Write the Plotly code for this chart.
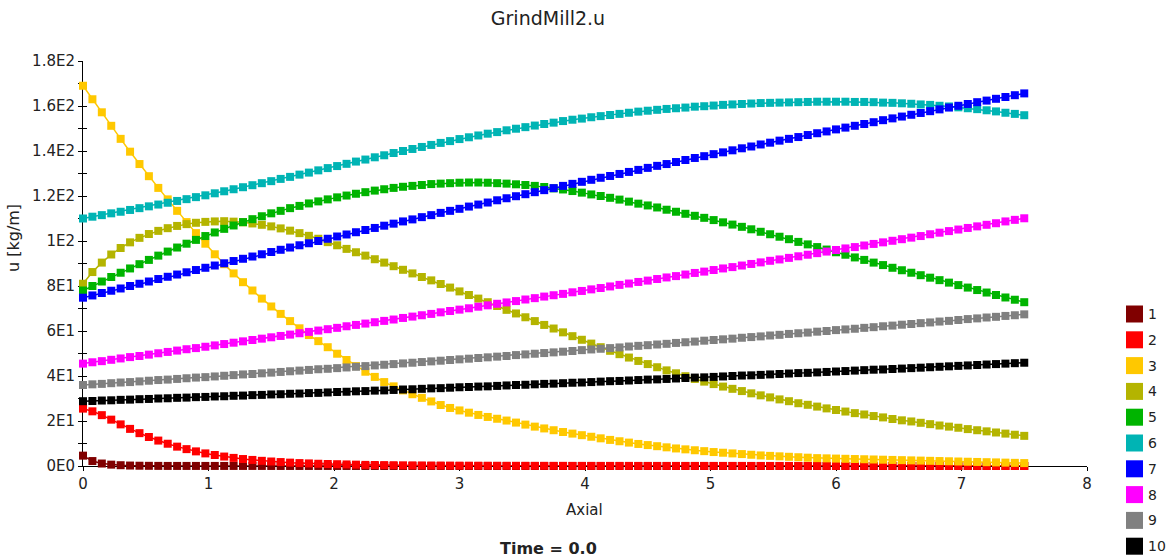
import plotly.graph_objects as go

# ---------------- data ----------------
SERIES_NAMES = ["1", "2", "3", "4", "5", "6", "7", "8", "9", "10"]
COLORS = ["#800000", "#FF0000", "#FFC800", "#B4B400", "#00B400",
          "#00B4B4", "#0000FF", "#FF00FF", "#808080", "#000000"]

AXIAL = [round(i * 0.075, 4) for i in range(101)]  # axial node positions 0 .. 7.5

U1 = [4.6, 2.2, 1.1, 0.6, 0.35, 0.2, 0.12, 0.08, 0.05, 0.03,
      0.03, 0.03, 0.03, 0.03, 0.03, 0.03, 0.03, 0.03, 0.03, 0.03,
      0.02, 0.02, 0.02, 0.02, 0.02, 0.02, 0.02, 0.02, 0.02, 0.02,
      0.02, 0.02, 0.02, 0.02, 0.02, 0.02, 0.02, 0.02, 0.02, 0.02,
      0.01, 0.01, 0.01, 0.01, 0.01, 0.01, 0.01, 0.01, 0.01, 0.01,
      0.01, 0.01, 0.01, 0.01, 0.01, 0.01, 0.01, 0.01, 0.01, 0.01,
      0.01, 0.01, 0.01, 0.01, 0.01, 0.01, 0.01, 0.01, 0.01, 0.01,
      0.01, 0.01, 0.01, 0.01, 0.01, 0.01, 0.01, 0.01, 0.01, 0.01,
      0.01, 0.01, 0.01, 0.01, 0.01, 0.01, 0.01, 0.01, 0.01, 0.01,
      0.01, 0.01, 0.01, 0.01, 0.01, 0.01, 0.01, 0.01, 0.01, 0.01,
      0.01]
U2 = [25.5, 24.3, 22.6, 20.6, 18.5, 16.5, 14.6, 12.9, 11.3, 9.9,
      8.6, 7.5, 6.5, 5.6, 4.9, 4.2, 3.6, 3.1, 2.7, 2.3,
      2.0, 1.75, 1.5, 1.3, 1.15, 1.0, 0.9, 0.8, 0.7, 0.6,
      0.5, 0.45, 0.4, 0.35, 0.3, 0.27, 0.24, 0.21, 0.19, 0.17,
      0.15, 0.14, 0.13, 0.12, 0.11, 0.1, 0.09, 0.09, 0.08, 0.08,
      0.07, 0.07, 0.06, 0.06, 0.06, 0.05, 0.05, 0.05, 0.05, 0.04,
      0.04, 0.04, 0.04, 0.04, 0.04, 0.04, 0.04, 0.04, 0.04, 0.04,
      0.04, 0.03, 0.03, 0.03, 0.03, 0.03, 0.03, 0.03, 0.03, 0.03,
      0.03, 0.03, 0.03, 0.03, 0.03, 0.03, 0.02, 0.02, 0.02, 0.02,
      0.02, 0.02, 0.02, 0.02, 0.02, 0.02, 0.02, 0.02, 0.02, 0.02,
      0.02]
U3 = [169.0, 163.0, 157.2, 151.2, 145.4, 139.7, 134.2, 128.8, 123.6, 118.5,
      113.4, 108.4, 103.5, 98.8, 94.1, 89.7, 85.6, 81.7, 78.0, 74.4,
      70.9, 67.6, 64.4, 61.2, 58.2, 55.5, 52.8, 49.9, 47.1, 44.4,
      41.9, 39.6, 37.3, 35.4, 33.6, 31.9, 30.3, 28.7, 27.1, 25.8,
      24.7, 23.7, 22.7, 21.8, 21.0, 20.2, 19.3, 18.4, 17.5, 16.7,
      15.9, 15.1, 14.4, 13.7, 13.0, 12.3, 11.6, 11.0, 10.4, 9.8,
      9.3, 8.8, 8.3, 7.8, 7.4, 7.0, 6.6, 6.2, 5.9, 5.6,
      5.3, 5.0, 4.7, 4.5, 4.3, 4.1, 3.9, 3.7, 3.5, 3.4,
      3.3, 3.2, 3.1, 3.0, 2.9, 2.8, 2.7, 2.6, 2.5, 2.4,
      2.3, 2.2, 2.1, 2.0, 1.9, 1.8, 1.7, 1.6, 1.5, 1.4,
      1.3]
U4 = [81.0, 86.2, 90.4, 94.0, 96.9, 99.4, 101.4, 103.1, 104.5, 105.7,
      106.7, 107.5, 108.1, 108.5, 108.7, 108.8, 108.6, 108.3, 107.8, 107.2,
      106.5, 105.6, 104.6, 103.5, 102.3, 101.0, 99.5, 98.1, 96.5, 95.0,
      93.5, 91.9, 90.4, 88.8, 87.2, 85.6, 84.0, 82.5, 80.9, 79.3,
      77.6, 76.0, 74.4, 72.8, 71.1, 69.4, 67.8, 66.1, 64.4, 62.7,
      61.1, 59.4, 57.7, 56.1, 54.4, 52.8, 51.2, 49.7, 48.2, 46.7,
      45.3, 43.9, 42.5, 41.2, 39.9, 38.7, 37.5, 36.4, 35.3, 34.3,
      33.3, 32.3, 31.4, 30.5, 29.6, 28.8, 27.9, 27.2, 26.4, 25.6,
      24.9, 24.2, 23.5, 22.9, 22.2, 21.6, 20.9, 20.3, 19.8, 19.2,
      18.6, 18.0, 17.5, 17.0, 16.4, 15.9, 15.4, 14.9, 14.4, 13.9,
      13.4]
U5 = [78.0, 80.0, 82.0, 84.0, 85.9, 87.8, 89.7, 91.6, 93.5, 95.3,
      97.1, 98.8, 100.5, 102.2, 103.8, 105.4, 106.9, 108.4, 109.7, 111.0,
      112.3, 113.4, 114.6, 115.6, 116.7, 117.6, 118.5, 119.4, 120.2, 121.0,
      121.7, 122.4, 123.0, 123.6, 124.1, 124.5, 124.9, 125.3, 125.5, 125.7,
      125.9, 126.0, 126.0, 125.9, 125.7, 125.5, 125.2, 124.9, 124.5, 124.0,
      123.4, 122.9, 122.2, 121.5, 120.7, 120.0, 119.2, 118.4, 117.5, 116.6,
      115.8, 114.9, 113.9, 113.0, 112.1, 111.2, 110.3, 109.3, 108.3, 107.3,
      106.3, 105.2, 104.1, 103.0, 101.9, 100.8, 99.6, 98.5, 97.3, 96.2,
      95.0, 93.9, 92.7, 91.6, 90.4, 89.3, 88.1, 87.0, 85.9, 84.8,
      83.7, 82.6, 81.5, 80.4, 79.3, 78.2, 77.1, 76.0, 74.9, 73.9,
      72.8]
U6 = [110.0, 110.8, 111.5, 112.3, 113.0, 113.8, 114.6, 115.4, 116.2, 117.0,
      117.8, 118.6, 119.5, 120.3, 121.2, 122.1, 123.0, 123.9, 124.8, 125.7,
      126.6, 127.6, 128.5, 129.5, 130.4, 131.4, 132.4, 133.3, 134.3, 135.3,
      136.2, 137.2, 138.1, 139.1, 140.0, 140.9, 141.8, 142.7, 143.6, 144.4,
      145.3, 146.1, 146.9, 147.7, 148.4, 149.2, 149.9, 150.6, 151.3, 152.0,
      152.6, 153.3, 153.9, 154.4, 155.0, 155.5, 156.0, 156.5, 157.0, 157.5,
      157.9, 158.3, 158.7, 159.0, 159.3, 159.7, 159.9, 160.2, 160.5, 160.7,
      160.9, 161.1, 161.3, 161.4, 161.5, 161.6, 161.7, 161.8, 161.9, 161.9,
      161.9, 161.9, 161.8, 161.8, 161.7, 161.5, 161.4, 161.2, 161.0, 160.7,
      160.5, 160.1, 159.8, 159.4, 159.0, 158.6, 158.1, 157.6, 157.0, 156.5,
      155.9]
U7 = [74.8, 75.8, 76.9, 77.9, 78.9, 80.0, 81.0, 82.0, 83.1, 84.1,
      85.1, 86.1, 87.1, 88.1, 89.1, 90.1, 91.1, 92.1, 93.1, 94.1,
      95.1, 96.1, 97.1, 98.1, 99.0, 100.0, 101.0, 102.0, 102.9, 103.9,
      104.9, 105.8, 106.8, 107.7, 108.7, 109.6, 110.6, 111.5, 112.5, 113.4,
      114.3, 115.3, 116.2, 117.1, 118.1, 119.0, 119.9, 120.8, 121.7, 122.6,
      123.5, 124.5, 125.4, 126.3, 127.2, 128.1, 128.9, 129.8, 130.7, 131.6,
      132.5, 133.4, 134.2, 135.1, 136.0, 136.9, 137.7, 138.6, 139.4, 140.3,
      141.2, 142.0, 142.9, 143.7, 144.6, 145.4, 146.2, 147.1, 147.9, 148.7,
      149.6, 150.4, 151.2, 152.0, 152.8, 153.7, 154.5, 155.3, 156.1, 156.9,
      157.7, 158.5, 159.3, 160.1, 160.9, 161.7, 162.4, 163.2, 164.0, 164.8,
      165.6]
U8 = [45.5, 46.1, 46.6, 47.2, 47.8, 48.4, 48.9, 49.5, 50.1, 50.7,
      51.3, 51.9, 52.4, 53.0, 53.6, 54.2, 54.8, 55.4, 56.0, 56.6,
      57.2, 57.8, 58.4, 59.0, 59.6, 60.2, 60.8, 61.4, 62.1, 62.7,
      63.3, 63.9, 64.5, 65.1, 65.8, 66.4, 67.0, 67.6, 68.3, 68.9,
      69.5, 70.1, 70.8, 71.4, 72.1, 72.7, 73.3, 74.0, 74.6, 75.3,
      75.9, 76.5, 77.2, 77.8, 78.5, 79.1, 79.8, 80.5, 81.1, 81.8,
      82.4, 83.1, 83.8, 84.4, 85.1, 85.8, 86.4, 87.1, 87.8, 88.4,
      89.1, 89.8, 90.5, 91.2, 91.8, 92.5, 93.2, 93.9, 94.6, 95.3,
      96.0, 96.7, 97.3, 98.0, 98.7, 99.4, 100.1, 100.8, 101.5, 102.2,
      103.0, 103.7, 104.4, 105.1, 105.8, 106.5, 107.2, 107.9, 108.7, 109.4,
      110.1]
U9 = [36.0, 36.3, 36.5, 36.8, 37.1, 37.3, 37.6, 37.9, 38.2, 38.4,
      38.7, 39.0, 39.3, 39.5, 39.8, 40.1, 40.4, 40.7, 40.9, 41.2,
      41.5, 41.8, 42.1, 42.4, 42.7, 43.0, 43.2, 43.5, 43.8, 44.1,
      44.4, 44.7, 45.0, 45.3, 45.6, 45.9, 46.2, 46.5, 46.8, 47.1,
      47.4, 47.7, 48.0, 48.3, 48.6, 48.9, 49.3, 49.6, 49.9, 50.2,
      50.5, 50.8, 51.1, 51.5, 51.8, 52.1, 52.4, 52.7, 53.1, 53.4,
      53.7, 54.0, 54.3, 54.7, 55.0, 55.3, 55.7, 56.0, 56.3, 56.6,
      57.0, 57.3, 57.6, 58.0, 58.3, 58.7, 59.0, 59.3, 59.7, 60.0,
      60.4, 60.7, 61.0, 61.4, 61.7, 62.1, 62.4, 62.8, 63.1, 63.5,
      63.8, 64.2, 64.5, 64.9, 65.3, 65.6, 66.0, 66.3, 66.7, 67.0,
      67.4]
U10 = [28.8, 28.9, 29.1, 29.2, 29.4, 29.5, 29.7, 29.8, 30.0, 30.1,
       30.3, 30.4, 30.6, 30.7, 30.9, 31.0, 31.2, 31.3, 31.5, 31.6,
       31.8, 31.9, 32.1, 32.2, 32.4, 32.5, 32.7, 32.9, 33.0, 33.2,
       33.3, 33.5, 33.6, 33.8, 34.0, 34.1, 34.3, 34.5, 34.6, 34.8,
       35.0, 35.1, 35.3, 35.4, 35.6, 35.8, 36.0, 36.1, 36.3, 36.5,
       36.6, 36.8, 37.0, 37.1, 37.3, 37.5, 37.7, 37.8, 38.0, 38.2,
       38.4, 38.5, 38.7, 38.9, 39.1, 39.3, 39.4, 39.6, 39.8, 40.0,
       40.2, 40.3, 40.5, 40.7, 40.9, 41.1, 41.3, 41.4, 41.6, 41.8,
       42.0, 42.2, 42.4, 42.6, 42.8, 42.9, 43.1, 43.3, 43.5, 43.7,
       43.9, 44.1, 44.3, 44.5, 44.7, 44.9, 45.1, 45.3, 45.5, 45.7,
       45.9]

SERIES = [U1, U2, U3, U4, U5, U6, U7, U8, U9, U10]

Y_TICKS = [0, 20, 40, 60, 80, 100, 120, 140, 160, 180]
Y_TICK_TEXT = ["0E0", "2E1", "4E1", "6E1", "8E1", "1E2", "1.2E2", "1.4E2", "1.6E2", "1.8E2"]
X_TICKS = [0, 1, 2, 3, 4, 5, 6, 7, 8]

for s in SERIES:
    assert len(s) == len(AXIAL), len(s)

# ---------------- layout geometry ----------------
W, H = 1169, 559
L, R, T, B = 83, 1087, 61, 466
FONT = "DejaVu Sans"
TXT = "#222222"


def px_x(p):
    return (p - L) / (R - L)


def px_y(p):
    return (B - p) / (B - T)


fig = go.Figure()
for name, col, vals in zip(SERIES_NAMES, COLORS, SERIES):
    fig.add_trace(go.Scatter(
        x=AXIAL, y=vals, name=name, mode="lines+markers",
        line=dict(color=col, width=1.5),
        marker=dict(symbol="square", size=8, color=col),
        cliponaxis=False, showlegend=False,
    ))

# dummy trace for the overlay axes that draw the inner half of the ticks
fig.add_trace(go.Scatter(x=[None], y=[None], xaxis="x2", yaxis="y2",
                         showlegend=False, hoverinfo="skip"))

axis_common = dict(showgrid=False, zeroline=False, showline=True,
                   linecolor="black", linewidth=1, tickcolor="black",
                   ticklen=4, tickwidth=1, layer="below traces")

fig.update_layout(
    width=W, height=H,
    margin=dict(l=L, r=W - R, t=T, b=H - B, pad=0),
    paper_bgcolor="white", plot_bgcolor="white",
    font=dict(family=FONT, size=14, color=TXT),
    title=dict(text="GrindMill2.u", x=548 / W, xanchor="center",
               y=1 - 18 / H, yanchor="middle", xref="container", yref="container",
               font=dict(family=FONT, size=19, color=TXT)),
    xaxis=dict(range=[0, 8], tickvals=X_TICKS, ticks="outside",
               tickfont=dict(family=FONT, size=15, color=TXT), **axis_common),
    yaxis=dict(range=[0, 180], tickvals=Y_TICKS, ticktext=Y_TICK_TEXT, ticks="outside",
               minor=dict(dtick=10, tick0=0, ticks="outside", ticklen=4, tickcolor="black"),
               tickfont=dict(family=FONT, size=15, color=TXT), **axis_common),
    xaxis2=dict(range=[0, 8], tickvals=X_TICKS, ticks="inside", overlaying="x",
                anchor="y2", showticklabels=False, **axis_common),
    yaxis2=dict(range=[0, 180], tickvals=Y_TICKS, ticks="inside", overlaying="y",
                anchor="x2", showticklabels=False,
                minor=dict(dtick=10, tick0=0, ticks="inside", ticklen=4, tickcolor="black"),
                **axis_common),
    hovermode=False,
)

annotations = [
    dict(text="Axial", x=px_x(584), y=px_y(510), xref="paper", yref="paper",
         xanchor="center", yanchor="middle",
         showarrow=False, font=dict(family=FONT, size=15, color=TXT)),
    dict(text="u [kg/m]", x=px_x(14), y=px_y(238), xref="paper", yref="paper",
         xanchor="center", yanchor="middle",
         showarrow=False, textangle=-90, font=dict(family=FONT, size=16, color=TXT)),
    dict(text="<b>Time = 0.0</b>", x=px_x(548), y=px_y(548), xref="paper", yref="paper",
         xanchor="center", yanchor="middle",
         showarrow=False, font=dict(family=FONT, size=16, color=TXT)),
]

shapes = []
LEG_TOP = 314
LEG_STEP = 25.8
for k, (name, col) in enumerate(zip(SERIES_NAMES, COLORS)):
    cy = LEG_TOP + k * LEG_STEP
    shapes.append(dict(type="rect", xref="paper", yref="paper",
                       x0=px_x(1126), x1=px_x(1143), y0=px_y(cy + 8.5), y1=px_y(cy - 8.5),
                       fillcolor=col, line=dict(width=0)))
    annotations.append(dict(text=name, x=px_x(1146), y=px_y(cy), xref="paper", yref="paper",
                            xanchor="left", yanchor="middle", showarrow=False,
                            font=dict(family=FONT, size=14, color=TXT)))

fig.update_layout(annotations=annotations, shapes=shapes)
fig.write_html("out.html")
